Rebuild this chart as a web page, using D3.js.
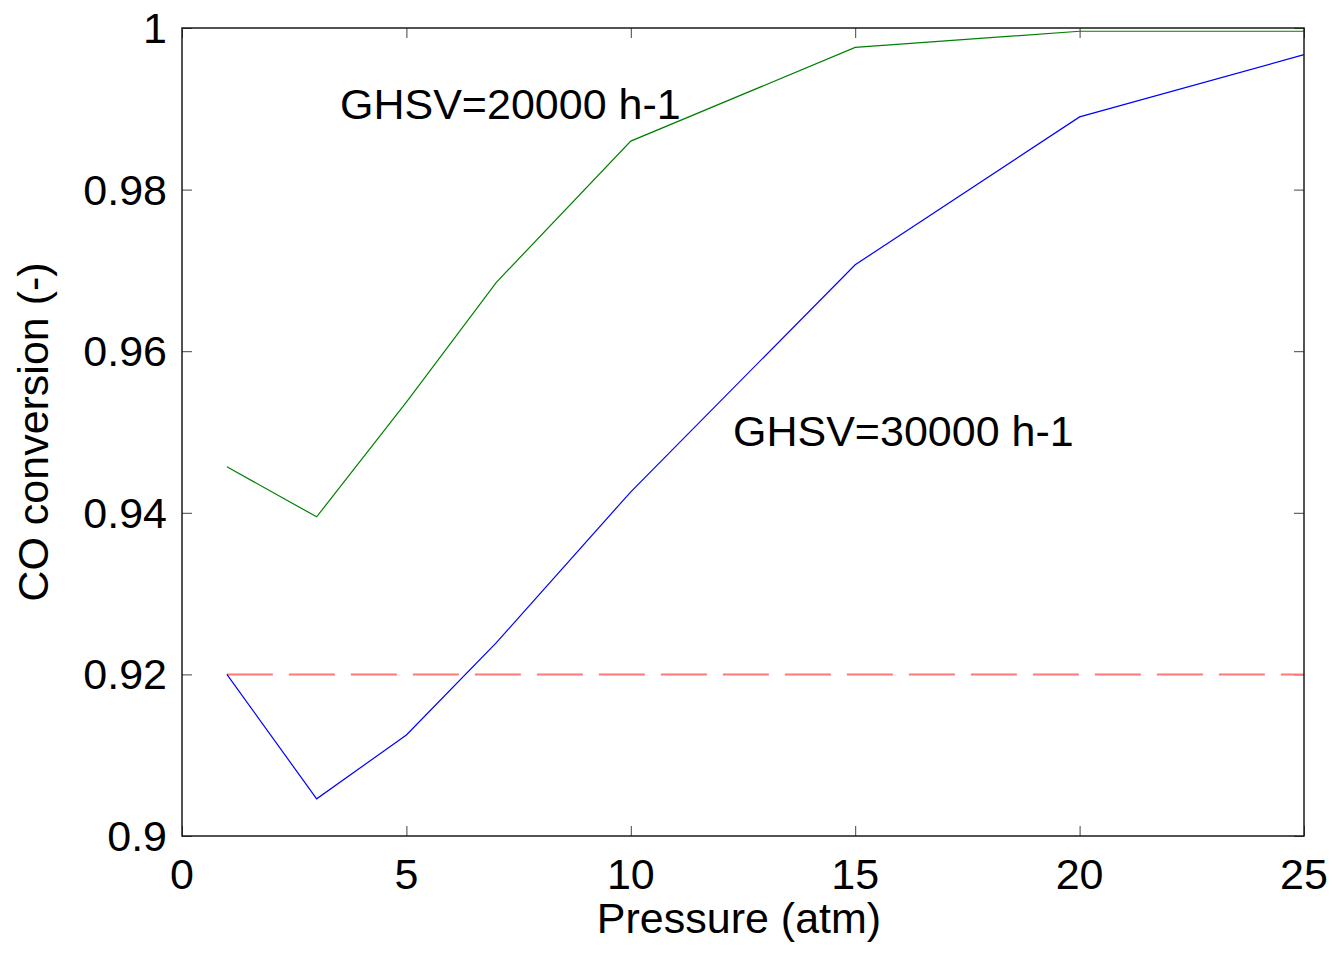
<!DOCTYPE html>
<html>
<head>
<meta charset="utf-8">
<script src="https://cdn.jsdelivr.net/npm/d3@7"></script>
<style>
  body { margin: 0; background: #fff; }
  text { font-family: "Liberation Sans", Arial, sans-serif; fill: #000; }
</style>
</head>
<body>
<div id="chart"></div>
<script>
// values
var pressure = [1, 3, 5, 7, 10, 15, 20, 25];
var ghsv20000 = [0.9457, 0.9395, 0.9537, 0.9685, 0.9860, 0.9976, 0.9996, 0.9996];
var ghsv30000 = [0.9200, 0.9046, 0.9125, 0.9239, 0.9426, 0.9707, 0.9890, 0.9967];
var targetLevel = 0.92;
var xTicks = [0, 5, 10, 15, 20, 25];
var yTicks = [0.9, 0.92, 0.94, 0.96, 0.98, 1];
var yTickLabels = ["0.9", "0.92", "0.94", "0.96", "0.98", "1"];

var W = 1333, H = 953;
var fontSize = "43px";
// plot box edges (window.top is reserved, so use other names)
var plotL = 182, plotR = 1304, plotT = 28, plotB = 836;

var svg = d3.select("#chart").append("svg")
    .attr("width", W)
    .attr("height", H);

var x = d3.scaleLinear().domain([0, 25]).range([plotL, plotR]);
var y = d3.scaleLinear().domain([0.9, 1]).range([plotB, plotT]);

// axes with inward ticks, on all four sides like matlab's box
var tickLen = 10;
var axisBottom = d3.axisBottom(x).tickValues(xTicks).tickSize(-tickLen).tickFormat("");
var axisTop = d3.axisTop(x).tickValues(xTicks).tickSize(-tickLen).tickFormat("");
var axisLeft = d3.axisLeft(y).tickValues(yTicks).tickSize(-tickLen).tickFormat("");
var axisRight = d3.axisRight(y).tickValues(yTicks).tickSize(-tickLen).tickFormat("");

function styleAxis(g) {
  g.select(".domain").remove();
  g.selectAll(".tick line").attr("stroke", "#444").attr("stroke-width", 1);
}
svg.append("g").attr("transform", "translate(0," + plotB + ")").call(axisBottom).call(styleAxis);
svg.append("g").attr("transform", "translate(0," + plotT + ")").call(axisTop).call(styleAxis);
svg.append("g").attr("transform", "translate(" + plotL + ",0)").call(axisLeft).call(styleAxis);
svg.append("g").attr("transform", "translate(" + plotR + ",0)").call(axisRight).call(styleAxis);

// lines
var line = d3.line()
    .x(function(d) { return x(d[0]); })
    .y(function(d) { return y(d[1]); });

svg.append("path")
    .datum(pressure.map(function(p) { return [p, targetLevel]; }))
    .attr("d", line)
    .attr("fill", "none")
    .attr("stroke", "#ff7878")
    .attr("stroke-width", 2)
    .attr("stroke-dasharray", "46,16");

svg.append("path")
    .datum(pressure.map(function(p, i) { return [p, ghsv20000[i]]; }))
    .attr("d", line)
    .attr("fill", "none")
    .attr("stroke", "#008000")
    .attr("stroke-width", 1.2);

svg.append("path")
    .datum(pressure.map(function(p, i) { return [p, ghsv30000[i]]; }))
    .attr("d", line)
    .attr("fill", "none")
    .attr("stroke", "#0000ff")
    .attr("stroke-width", 1.2);

// box
svg.append("rect")
    .attr("x", plotL)
    .attr("y", plotT)
    .attr("width", plotR - plotL)
    .attr("height", plotB - plotT)
    .attr("fill", "none")
    .attr("stroke", "#1a1a1a")
    .attr("stroke-width", 1.5);

// tick labels
svg.selectAll(".xlab")
    .data(xTicks)
    .enter().append("text")
    .attr("x", function(d) { return x(d); })
    .attr("y", 889)
    .attr("text-anchor", "middle")
    .style("font-size", fontSize)
    .text(function(d) { return d; });

svg.selectAll(".ylab")
    .data(yTicks)
    .enter().append("text")
    .attr("x", 167)
    .attr("y", function(d) { return y(d) + 15; })
    .attr("text-anchor", "end")
    .style("font-size", fontSize)
    .text(function(d, i) { return yTickLabels[i]; });

// axis titles
svg.append("text")
    .attr("x", (plotL + plotR) / 2 - 4)
    .attr("y", 933)
    .attr("text-anchor", "middle")
    .style("font-size", fontSize)
    .text("Pressure (atm)");

svg.append("text")
    .attr("transform", "translate(48," + ((plotT + plotB) / 2) + ") rotate(-90)")
    .attr("text-anchor", "middle")
    .style("font-size", fontSize)
    .text("CO conversion (-)");

// annotations
svg.append("text")
    .attr("x", 340)
    .attr("y", 119)
    .style("font-size", fontSize)
    .text("GHSV=20000 h-1");

svg.append("text")
    .attr("x", 733)
    .attr("y", 446)
    .style("font-size", fontSize)
    .text("GHSV=30000 h-1");
</script>
</body>
</html>
